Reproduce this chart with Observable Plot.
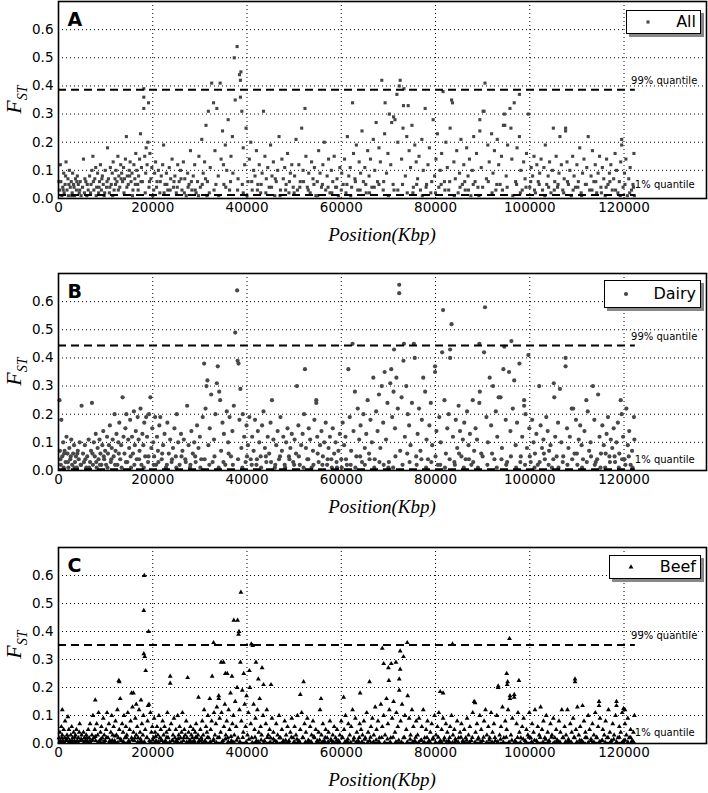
<!DOCTYPE html>
<html><head><meta charset="utf-8">
<script src="https://cdn.jsdelivr.net/npm/d3@7"></script>
<script src="https://cdn.jsdelivr.net/npm/@observablehq/plot@0.6"></script>
<style>
body{margin:0;background:#fff;}
#wrap{position:relative;width:708px;height:793px;overflow:hidden;background:#fff;}
.panel{position:absolute;left:0;width:708px;}
.legend{position:absolute;background:#fff;border:1.5px solid #000;box-shadow:3px 3px 0 #888;box-sizing:border-box;font-family:"DejaVu Sans",sans-serif;font-size:16px;color:#000;}
.legend .lab{position:absolute;right:4px;top:50%;transform:translateY(-52%);}
.legend .mk{position:absolute;top:50%;}
.xlab{position:absolute;left:58px;width:648px;text-align:center;font-family:"Liberation Serif","DejaVu Serif",serif;font-style:italic;font-size:19px;color:#000;}
.ylab{position:absolute;left:-12px;width:56px;text-align:center;transform:rotate(-90deg);font-family:"Liberation Serif","DejaVu Serif",serif;font-style:italic;font-size:22px;color:#000;}
.ylab sub{font-size:14px;}
</style>
</head><body>
<div id="wrap"></div>
<script>
// Tick values
const xTicks = [0, 20000, 40000, 60000, 80000, 100000, 120000];
const yTicks = [0, 0.1, 0.2, 0.3, 0.4, 0.5, 0.6];
const chromEnd = 122400; // Kbp, end of quantile lines
const panelNames = ["A", "B", "C"];
const legendNames = ["All", "Dairy", "Beef"];
const q99 = [0.386, 0.444, 0.352];
const q01 = [0.012, 0.004, 0.003];

// Points: flat pairs [position (x1000 Kbp), Fst (x100)]
const ptsA = [
0.2,3, 0.4,12, 0.5,6, 0.7,1, 0.9,4, 1.1,9, 1.2,2, 1.4,5, 1.6,13, 1.8,3, 2.0,7, 2.1,1, 2.3,10, 2.5,4, 2.7,6, 2.9,2, 3.0,9, 3.2,5, 3.4,1, 3.6,7, 3.8,3, 4.0,8, 4.2,5, 4.4,2, 4.6,6, 4.8,1,
5.1,4, 5.3,14, 5.5,2, 5.8,6, 6.0,1, 6.3,3, 6.6,8, 6.9,5, 7.1,10, 7.3,15, 7.5,3, 7.7,7, 7.9,11, 8.1,4, 8.3,9, 8.5,2, 8.7,6, 8.9,12, 9.1,3, 9.3,8, 9.5,5, 9.7,1, 9.9,10,
10.2,4, 10.4,18, 10.6,7, 10.8,2, 11.0,11, 11.2,5, 11.4,9, 11.6,13, 11.8,3, 12.0,7, 12.2,10, 12.4,6, 12.6,15, 12.8,8, 13.0,4, 13.2,12, 13.4,9, 13.6,6, 13.8,11, 14.0,7, 14.2,14, 14.4,22, 14.6,8, 14.8,5, 15.0,10, 15.2,13, 15.4,6, 15.6,9, 15.8,3, 16.0,12, 16.2,7, 16.4,16, 16.6,10, 16.8,5, 17.0,8, 17.2,14, 17.4,23, 17.6,11, 17.8,6,
18.1,39, 18.1,36, 18.1,32, 18.3,15, 18.5,9, 18.6,18, 18.8,12, 19.1,34, 19.0,20, 19.2,4, 19.4,16, 19.6,7, 19.8,11,
20.2,3, 20.4,9, 20.6,13, 20.9,6, 21.2,10, 21.5,2, 21.8,8, 22.1,12, 22.3,19, 22.6,5, 22.9,9, 23.2,3, 23.5,11, 23.8,7, 24.1,14, 24.4,4, 24.7,8, 25.0,2, 25.3,12, 25.6,6, 25.9,10, 26.2,3, 26.5,13, 26.8,7, 27.1,1, 27.4,9, 27.7,5, 28.0,17, 28.3,3, 28.6,8, 28.9,12, 29.2,2, 29.5,6, 29.8,15,
30.1,4, 30.4,21, 30.7,9, 31.0,13, 31.3,26, 31.6,6, 31.8,31, 32.2,11, 32.5,41, 32.9,34, 33.2,17, 33.6,32, 33.9,8, 34.3,41, 34.5,14, 34.8,24, 35.1,5, 35.4,19, 35.7,10, 36.0,28, 36.3,3, 36.6,15, 36.9,22, 37.3,50, 37.5,35, 37.9,54, 38.1,7, 38.4,44, 38.6,42, 38.6,36, 38.7,45, 38.9,31, 39.2,18, 39.5,12, 39.8,25, 39.2,2, 37.0,9, 35.0,12, 33.0,3, 31.5,1,
40.2,6, 40.5,14, 40.8,20, 41.1,3, 41.4,10, 41.7,8, 42.0,17, 42.3,5, 42.6,12, 42.9,2, 43.2,9, 43.5,31, 43.8,15, 44.1,7, 44.4,11, 44.7,4, 45.0,19, 45.3,8, 45.6,13, 45.9,1, 46.2,6, 46.5,10, 46.8,22, 47.1,3, 47.4,14, 47.7,7, 48.0,11, 48.3,5, 48.6,16, 48.9,2, 49.2,9, 49.5,12, 49.8,4,
50.1,8, 50.4,21, 50.7,3, 51.0,12, 51.3,6, 51.6,25, 51.9,10, 52.3,32, 52.5,15, 52.8,4, 53.1,9, 53.4,2, 53.7,13, 54.0,7, 54.3,11, 54.6,1, 54.9,6, 55.2,17, 55.5,9, 55.8,4, 56.1,12, 56.4,20, 56.7,3, 57.0,8, 57.3,14, 57.6,2, 57.9,10, 58.2,6, 58.5,15, 58.8,4, 59.1,7, 59.4,1, 59.7,11,
60.1,9, 60.4,5, 60.7,14, 61.0,2, 61.3,22, 61.6,8, 61.9,11, 62.2,4, 62.4,34, 62.6,16, 62.9,7, 63.2,19, 63.5,3, 63.8,13, 64.1,9, 64.4,24, 64.7,6, 65.0,11, 65.3,2, 65.6,17, 65.9,8,
66.2,14, 66.5,4, 66.8,21, 67.1,10, 67.4,27, 67.7,6, 68.0,18, 68.3,13, 68.6,42, 68.9,3, 69.2,23, 69.3,34, 69.6,9, 69.9,16, 70.2,30, 70.5,12, 70.7,27, 71.0,5, 71.1,29, 71.4,28, 71.8,37, 72.0,20, 72.3,40, 72.5,42, 72.8,14, 73.1,25, 73.2,33, 73.3,39, 73.6,8, 73.9,22, 74.2,33, 74.4,17, 74.7,11, 75.0,26, 75.3,4, 75.6,19, 75.9,13, 70.0,1, 72.0,3, 68.0,5, 74.0,2,
76.2,7, 76.5,15, 76.8,3, 77.1,21, 77.4,10, 77.8,32, 78.1,5, 78.4,12, 78.7,18, 79.0,2, 79.5,28, 79.8,8, 80.1,14, 80.4,23, 80.7,4, 81.0,10, 81.3,16, 81.6,38, 81.9,6, 82.2,20, 82.5,11, 82.8,3, 83.1,25, 83.4,35, 83.6,34, 83.9,13, 84.2,7, 84.5,17, 84.8,2, 85.1,9, 85.4,21, 85.7,5,
86.0,12, 86.3,3, 86.6,18, 86.9,8, 87.2,14, 87.5,1, 87.8,10, 88.1,22, 88.4,6, 88.7,16, 89.0,4, 89.4,28, 89.4,24, 89.7,11, 90.1,31, 90.3,31, 90.5,41, 90.8,7, 91.1,19, 91.4,13, 91.9,23, 92.2,9, 92.5,17, 92.8,3, 93.1,21, 93.4,12, 93.7,5, 94.0,15, 94.4,26, 94.6,30, 94.7,26, 95.0,8, 95.3,19, 95.8,32, 96.0,25, 96.2,14, 96.7,34, 97.0,6, 97.3,18, 97.8,37, 97.8,22, 98.1,10, 98.4,3,
98.7,13, 99.0,7, 99.3,16, 99.7,30, 100.0,4, 100.3,11, 100.6,8, 100.9,15, 101.2,2, 101.5,12, 101.8,6, 102.1,9, 102.4,14, 102.7,3, 103.0,11, 103.3,19, 103.6,5, 103.9,8, 104.2,13, 104.5,2, 104.8,10, 105.0,25, 105.3,6, 105.6,15, 105.9,4, 106.2,9, 106.4,22, 106.7,12, 107.0,3, 107.3,7, 107.6,24, 107.6,25, 107.9,13, 108.2,5, 108.5,10, 108.8,1, 109.1,15, 109.4,8, 109.7,4, 110.0,12, 110.3,6, 110.6,18, 110.9,2, 111.2,9, 111.5,14, 111.8,5, 112.1,11, 112.4,22, 112.7,3, 113.0,8, 113.3,17, 113.6,6, 113.9,12, 114.2,2, 114.5,9, 114.8,15, 115.1,4, 115.4,11, 115.7,7, 116.0,1, 116.3,14, 116.6,5, 116.9,9, 117.2,12, 117.5,3, 117.8,7, 118.1,16, 118.4,10, 118.7,2, 119.0,6, 119.3,13, 119.5,21, 119.5,19, 119.8,4, 120.1,9, 120.4,14, 120.7,1, 121.0,7, 121.3,11, 121.6,3, 121.9,5, 122.1,16, 122.2,1,
0.1,6, 1.0,3, 1.5,8, 2.2,5, 2.8,1, 3.3,4, 3.9,6, 4.5,3, 5.6,7, 6.1,5, 6.8,2, 7.4,6, 8.0,1, 8.6,4, 9.2,7, 9.8,2, 10.3,6, 10.9,4, 11.5,1, 12.1,5, 12.7,3, 13.3,7, 13.9,2, 14.5,4, 15.1,8, 15.7,1, 16.3,5, 16.9,3, 17.5,6, 18.4,2, 19.3,6, 20.0,1, 20.8,4, 21.6,6, 22.4,2, 23.0,5, 23.7,3, 24.5,6, 25.2,4, 26.0,7, 26.7,2, 27.5,4, 28.2,6, 29.0,3, 29.7,1, 30.5,5, 31.2,7, 32.0,2, 33.4,5, 34.0,1, 35.5,4, 36.5,6, 38.0,3, 39.0,5, 40.0,1, 41.0,6, 42.2,3, 43.0,5, 44.0,2, 45.2,4, 46.0,7, 47.0,1, 48.2,3, 49.0,6, 50.0,2, 51.2,4, 52.0,6, 53.0,3, 54.2,5, 55.0,1, 56.0,5, 57.2,4, 58.0,2, 59.0,4, 60.0,3, 61.2,5, 62.0,1, 63.0,6, 64.0,3, 65.2,5, 66.0,2, 67.0,4, 69.0,6, 71.2,3, 73.0,5, 75.2,2, 76.0,5, 77.2,1, 78.0,4, 79.2,6, 80.0,2, 81.2,5, 82.0,3, 83.0,6, 84.0,1, 85.2,4, 86.2,6, 87.0,3, 88.0,5, 89.2,1, 90.0,4, 91.2,6, 92.0,2, 93.0,5, 94.2,3, 95.2,4, 96.4,1, 97.2,5, 98.0,2, 99.2,4, 100.2,6, 101.0,3, 102.0,5, 103.2,1, 104.0,4, 105.2,3, 106.0,5, 107.2,2, 108.0,6, 109.2,3, 110.2,4, 111.0,1, 112.0,5, 113.2,3, 114.0,6, 115.2,2, 116.2,4, 117.0,6, 118.2,3, 119.2,1, 120.2,5, 121.2,2, 122.0,4
];

const ptsB = [
0.2,25, 0.3,7, 0.5,2, 0.6,18, 0.8,5, 1.0,10, 1.1,1, 1.3,7, 1.5,3, 1.7,12, 1.9,6, 2.1,1, 2.3,8, 2.5,4, 2.7,11, 2.9,2, 3.1,6, 3.3,9, 3.5,3, 3.7,5, 3.9,1, 4.1,7, 4.3,4, 4.5,10, 4.9,23, 4.7,2,
5.2,6, 5.4,3, 5.6,9, 5.9,1, 6.1,5, 6.4,11, 6.7,3, 6.9,7, 7.1,24, 7.3,2, 7.5,10, 7.7,5, 7.9,13, 8.1,1, 8.3,8, 8.5,4, 8.7,11, 8.9,6, 9.1,2, 9.3,9, 9.5,14, 9.7,4, 9.9,7,
10.1,2, 10.3,12, 10.5,6, 10.7,9, 10.9,16, 11.1,3, 11.3,8, 11.5,11, 11.7,5, 11.9,20, 12.1,7, 12.3,13, 12.5,2, 12.7,10, 12.9,17, 13.1,4, 13.3,9, 13.6,26, 13.8,12, 14.0,6, 14.2,15, 14.4,20, 14.6,3, 14.8,11, 15.0,8, 15.2,18, 15.4,1, 15.6,12, 15.8,6, 16.0,21, 16.2,9, 16.4,14, 16.6,4, 16.8,19, 17.0,11, 17.2,7, 17.4,22, 17.6,2, 17.8,13, 18.0,9, 18.2,17, 18.4,5, 18.6,19, 18.8,12, 19.0,3, 19.2,20, 19.5,26, 19.7,8, 19.9,15,
20.1,10, 20.3,5, 20.5,19, 20.7,2, 20.9,12, 21.1,7, 21.4,16, 21.6,19, 21.9,4, 22.2,9, 22.5,13, 22.8,1, 23.1,17, 23.4,6, 23.7,11, 24.0,3, 24.3,8, 24.6,15, 24.9,5, 25.1,20, 25.4,10, 25.7,2, 26.0,13, 26.3,7, 26.6,11, 26.9,4, 27.3,23, 27.6,9, 27.9,1, 28.2,14, 28.5,6, 28.8,10, 29.1,3, 29.4,16, 29.7,8,
30.0,12, 30.3,4, 30.6,19, 30.9,38, 31.2,22, 31.4,30, 31.6,32, 31.8,9, 32.1,15, 32.4,27, 32.7,3, 33.0,11, 33.3,20, 33.6,31, 33.8,37, 34.1,28, 34.3,25, 34.5,7, 34.8,17, 35.1,13, 35.4,2, 35.7,21, 36.0,10, 36.3,19, 36.6,5, 36.9,14, 37.2,23, 37.5,49, 37.9,64, 38.0,39, 38.2,38, 38.4,18, 38.6,29, 38.8,8, 39.1,20, 39.4,12, 39.7,3, 39.9,16,
40.2,9, 40.5,19, 40.8,4, 41.1,12, 41.4,7, 41.7,18, 42.0,2, 42.3,14, 42.6,10, 42.9,5, 43.2,16, 43.5,21, 43.8,8, 44.1,3, 44.4,12, 44.7,6, 45.0,17, 45.3,25, 45.6,11, 45.9,1, 46.2,9, 46.5,14, 46.8,4, 47.1,19, 47.4,7, 47.7,12, 48.0,2, 48.3,10, 48.6,15, 48.9,5, 49.2,8, 49.5,13, 49.8,3,
50.1,11, 50.4,6, 50.6,30, 50.9,16, 51.2,2, 51.5,9, 51.8,13, 52.1,20, 52.3,36, 52.5,8, 52.8,4, 53.1,15, 53.4,11, 53.7,1, 54.0,7, 54.3,18, 54.7,25, 54.7,24, 54.9,12, 55.2,3, 55.5,9, 55.8,14, 56.1,5, 56.4,10, 56.7,17, 57.0,2, 57.3,8, 57.6,12, 57.9,4, 58.2,15, 58.5,6, 58.8,10, 59.1,1, 59.4,7, 59.7,13,
60.0,4, 60.3,17, 60.6,9, 60.9,12, 61.2,2, 61.5,36, 61.8,19, 62.1,7, 62.4,45, 62.6,14, 62.9,28, 63.2,5, 63.5,22, 63.8,11, 64.1,16, 64.4,3, 64.7,20, 65.0,8, 65.3,13, 65.6,25, 65.9,6,
66.2,18, 66.5,10, 66.8,33, 67.1,4, 67.4,21, 67.7,14, 68.0,27, 68.3,8, 68.6,30, 68.9,17, 69.2,35, 69.5,11, 69.8,24, 70.1,3, 70.4,31, 70.6,36, 70.8,19, 71.1,28, 71.2,43, 71.4,15, 71.7,33, 72.0,22, 72.3,66, 72.3,63, 72.5,7, 72.8,26, 73.2,39, 73.3,45, 73.5,12, 73.8,30, 74.1,20, 74.4,16, 74.7,9, 75.0,24, 75.4,45, 75.6,40, 75.9,5, 70.0,1, 71.5,5, 73.0,2, 74.0,6,
76.2,13, 76.5,22, 76.8,7, 77.1,18, 77.4,33, 77.8,28, 78.1,11, 78.4,4, 78.7,16, 79.0,24, 79.3,9, 79.9,35, 79.9,37, 80.2,14, 80.5,2, 80.8,19, 81.1,10, 81.4,42, 81.6,57, 81.9,25, 82.2,6, 82.5,15, 82.8,20, 83.1,43, 83.1,40, 83.4,52, 83.7,12, 84.0,3, 84.3,18, 84.6,8, 84.9,23, 85.2,14, 85.5,5, 85.8,11,
86.1,17, 86.4,4, 86.7,21, 87.0,9, 87.3,13, 87.6,2, 87.9,25, 88.2,7, 88.5,15, 88.8,11, 89.3,45, 89.3,24, 89.4,28, 89.7,6, 90.3,42, 90.5,58, 90.8,19, 91.1,10, 91.5,33, 91.8,16, 92.2,30, 92.5,4, 92.8,21, 93.1,12, 93.4,26, 93.8,26, 94.1,8, 94.4,36, 94.6,44, 94.9,18, 95.2,3, 95.6,35, 95.9,14, 96.1,46, 96.4,22, 96.7,32, 97.0,9, 97.3,17, 97.8,38, 98.1,5, 98.4,12, 98.8,25, 98.8,23, 99.1,20, 99.4,8, 99.7,41, 99.9,15,
100.2,3, 100.5,18, 100.8,10, 101.1,6, 101.4,13, 101.7,2, 102.0,30, 102.3,16, 102.6,8, 102.9,11, 103.2,4, 103.5,19, 103.8,14, 104.1,7, 104.4,9, 104.7,1, 105.1,31, 105.2,26, 105.4,12, 105.7,5, 106.0,17, 106.4,29, 106.7,10, 107.0,3, 107.6,40, 107.6,37, 107.9,15, 108.2,8, 108.5,12, 108.9,22, 109.2,22, 109.5,6, 109.8,18, 110.1,2, 110.4,11, 110.7,16, 111.0,9, 111.3,4, 111.6,14, 112.0,25, 112.3,21, 112.6,7, 112.9,10, 113.4,30, 113.7,18, 114.0,3, 114.5,27, 114.8,12, 115.1,6, 115.4,16, 115.7,9, 116.0,1, 116.3,13, 116.6,19, 116.9,5, 117.2,11, 117.5,8, 117.8,15, 118.1,3, 118.4,10, 118.7,17, 119.0,6, 119.3,25, 119.5,20, 119.8,12, 120.1,4, 120.5,22, 120.8,9, 121.1,14, 121.4,2, 121.7,7, 122.1,19, 122.2,11,
0.4,4, 1.2,6, 2.0,3, 2.6,5, 3.4,1, 4.0,6, 4.8,2, 5.7,4, 6.5,1, 7.2,6, 8.0,3, 8.8,2, 9.6,5, 10.4,1, 11.2,4, 12.0,2, 12.8,6, 13.4,1, 14.3,3, 15.3,5, 16.1,2, 17.1,4, 18.1,1, 19.1,5, 20.2,2, 21.2,3, 22.0,6, 23.0,2, 24.1,4, 25.0,1, 26.1,5, 27.0,3, 28.0,2, 29.0,5, 30.1,1, 31.0,4, 32.0,2, 33.1,5, 34.0,1, 35.0,3, 36.1,6, 37.0,2, 38.1,4, 39.0,1, 40.0,5, 41.0,2, 42.1,4, 43.0,1, 44.0,5, 45.1,3, 46.0,2, 47.0,5, 48.1,1, 49.0,4, 50.0,2, 51.0,5, 52.0,1, 53.0,4, 54.1,2, 55.0,6, 56.0,2, 57.1,4, 58.0,1, 59.0,3, 60.1,1, 61.0,4, 62.0,2, 63.0,1, 64.0,5, 65.0,2, 66.0,4, 67.0,1, 68.1,3, 69.0,2, 71.0,1, 74.5,3, 76.0,2, 77.0,4, 78.0,1, 79.1,3, 80.0,5, 81.0,2, 82.0,1, 83.0,4, 84.1,2, 85.0,6, 86.0,1, 87.1,4, 88.0,3, 89.0,1, 90.0,5, 91.0,2, 92.0,6, 93.0,1, 94.0,4, 95.0,2, 96.0,5, 97.1,1, 98.0,3, 99.0,2, 100.0,5, 101.0,1, 102.1,3, 103.0,6, 104.0,2, 105.0,4, 106.1,1, 107.1,5, 108.0,2, 109.0,4, 110.0,6, 111.1,1, 112.1,3, 113.0,5, 113.8,2, 114.3,4, 115.0,1, 116.1,6, 117.0,3, 118.0,5, 118.9,1, 119.6,4, 120.3,2, 121.0,5, 121.8,1
];

const ptsC = [
18.2,60, 18.1,47.5, 19.1,40, 18.1,32, 18.3,31, 18.5,26, 12.8,22.5, 12.9,22, 23.7,24, 23.7,21.5, 27.4,23.5, 32.9,36, 34.5,29, 35.0,29, 35.8,25, 32.6,24, 34.0,17, 34.0,16, 29.7,16.5, 37.2,44, 38.0,44, 38.2,39, 38.3,40, 38.7,54, 40.9,35.5, 41.2,35, 38.6,29, 41.9,29, 40.5,26, 39.3,25, 43.2,27, 35.4,25, 36.8,24, 42.4,23, 43.5,21, 45.1,21, 52.0,22, 66.0,22, 70.1,22.5, 72.3,23, 68.7,34, 74.0,36, 83.6,35.5, 72.5,33, 73.2,31, 69.0,28.5, 70.0,27, 70.6,28.5, 71.6,29, 72.5,26.5, 81.0,18.5, 81.6,18, 88.2,15, 93.3,20.5, 51.3,17.5, 55.7,16, 64.0,18, 60.5,16.5, 95.7,37.5, 95.1,25, 95.2,21, 95.3,22, 97.7,22.5, 93.3,20, 95.8,16, 95.8,17, 96.7,16.5, 96.7,17.5, 88.4,14.5, 109.6,23, 109.6,22, 114.7,15, 114.7,13.5, 118.4,15, 118.4,13.5, 111.2,13.5, 119.9,12.5, 120.2,12, 7.8,15.5, 15.5,18, 15.9,18, 0.8,12, 2.0,9.5, 17.5,15.5, 16.5,14, 19.2,14, 19.0,13.5,
0.1,2, 0.3,4, 0.4,1, 0.6,6, 0.8,3, 0.9,1, 1.1,5, 1.3,2, 1.4,8, 1.6,1, 1.8,3, 2.0,2, 2.2,5, 2.4,1, 2.6,3, 2.8,6, 3.0,2, 3.2,4, 3.4,1, 3.6,3, 3.8,5, 4.0,1, 4.2,2, 4.4,4, 4.5,7, 4.7,1, 4.9,3,
5.1,1, 5.3,4, 5.5,2, 5.7,1, 5.9,3, 6.1,1, 6.3,5, 6.5,2, 6.7,7, 6.9,1, 7.1,3, 7.3,10, 7.5,2, 7.7,5, 7.9,1, 8.1,7, 8.3,3, 8.5,11, 8.7,1, 8.9,4, 9.1,6, 9.3,2, 9.5,9, 9.7,3, 9.9,1,
10.1,5, 10.3,11, 10.5,2, 10.7,7, 10.9,1, 11.1,4, 11.3,10, 11.5,3, 11.7,6, 11.9,1, 12.1,8, 12.3,3, 12.5,12, 12.7,2, 12.9,5, 13.1,16, 13.3,1, 13.5,7, 13.7,4, 13.9,10, 14.1,2, 14.3,6, 14.5,3, 14.7,11, 14.9,1, 15.1,5, 15.3,8, 15.5,2, 15.7,13, 15.9,4, 16.1,1, 16.3,9, 16.5,3, 16.7,6, 16.9,2, 17.1,12, 17.3,4, 17.5,1, 17.7,7, 17.9,3, 18.0,10, 18.4,5, 18.7,2, 18.9,8, 19.3,1, 19.5,11, 19.7,4, 19.9,6,
20.1,2, 20.3,9, 20.5,4, 20.7,1, 20.9,6, 21.1,3, 21.3,10, 21.5,2, 21.7,5, 21.9,1, 22.1,8, 22.3,3, 22.5,6, 22.7,1, 22.9,4, 23.1,11, 23.3,2, 23.5,5, 23.9,7, 24.1,1, 24.3,3, 24.5,9, 24.7,2, 24.9,5, 25.1,1, 25.3,10, 25.5,3, 25.7,6, 25.9,2, 26.1,4, 26.3,11, 26.5,1, 26.7,5, 26.9,3, 27.1,8, 27.3,2, 27.6,4, 27.8,1, 28.0,6, 28.2,3, 28.4,2, 28.6,5, 28.8,1, 29.0,4, 29.2,7, 29.4,2, 29.6,3, 29.9,1,
30.1,5, 30.3,2, 30.5,8, 30.7,3, 30.9,12, 31.1,1, 31.3,6, 31.5,4, 31.7,10, 31.9,2, 32.1,16, 32.3,5, 32.5,8, 32.8,1, 33.0,11, 33.2,3, 33.4,7, 33.6,13, 33.8,2, 34.2,9, 34.4,4, 34.6,11, 34.9,1, 35.1,6, 35.3,14, 35.5,3, 35.7,8, 35.9,2, 36.1,12, 36.3,5, 36.5,18, 36.7,1, 36.9,7, 37.1,10, 37.3,3, 37.5,15, 37.7,6, 37.9,20, 38.1,2, 38.4,12, 38.8,8, 39.0,19, 39.2,4, 39.5,14, 39.7,6, 39.9,17,
40.1,3, 40.3,11, 40.6,20, 40.8,7, 41.0,2, 41.4,14, 41.6,5, 41.8,9, 42.0,1, 42.2,12, 42.5,4, 42.7,16, 42.9,6, 43.1,3, 43.4,10, 43.7,1, 44.0,7, 44.2,12, 44.5,3, 44.8,5, 45.0,2, 45.3,9, 45.6,4, 45.9,1, 46.2,7, 46.5,3, 46.8,10, 47.1,2, 47.4,5, 47.7,1, 48.0,8, 48.3,3, 48.6,6, 48.9,1, 49.2,4, 49.5,9, 49.8,2,
50.1,6, 50.4,3, 50.7,10, 51.0,1, 51.3,5, 51.6,11, 51.9,2, 52.2,7, 52.5,4, 52.8,9, 53.1,1, 53.4,6, 53.7,3, 54.0,8, 54.3,2, 54.6,5, 54.9,1, 55.2,4, 55.5,12, 55.8,3, 56.1,7, 56.4,1, 56.7,5, 57.0,2, 57.3,4, 57.6,8, 57.9,1, 58.2,3, 58.5,6, 58.8,2, 59.1,5, 59.4,1, 59.7,3,
60.0,8, 60.3,2, 60.6,5, 60.9,10, 61.2,1, 61.5,7, 61.8,3, 62.1,6, 62.4,12, 62.7,2, 63.0,9, 63.3,4, 63.6,1, 63.9,7, 64.2,5, 64.5,3, 64.8,8, 65.1,2, 65.4,11, 65.7,4,
66.0,1, 66.3,6, 66.6,9, 66.9,3, 67.2,13, 67.5,5, 67.8,8, 68.1,2, 68.4,14, 68.7,6, 69.0,10, 69.3,3, 69.6,16, 69.9,7, 70.2,12, 70.5,2, 70.8,9, 71.1,15, 71.4,4, 71.7,11, 72.0,6, 72.3,19, 72.6,8, 72.9,14, 73.2,2, 73.5,10, 73.8,5, 74.1,17, 74.4,9, 74.7,3, 75.0,12, 75.3,6, 75.6,1, 75.9,8,
76.2,3, 76.5,9, 76.8,1, 77.1,6, 77.4,12, 77.7,2, 78.0,5, 78.3,8, 78.6,1, 78.9,4, 79.2,7, 79.5,2, 79.8,10, 80.1,3, 80.4,6, 80.7,11, 81.0,1, 81.3,5, 81.6,9, 81.9,2, 82.2,7, 82.5,4, 82.8,1, 83.1,6, 83.4,10, 83.7,3, 84.0,5, 84.3,1, 84.6,8, 84.9,2, 85.2,4, 85.5,7, 85.8,1,
86.1,5, 86.4,2, 86.7,9, 87.0,3, 87.3,6, 87.6,1, 87.9,11, 88.5,4, 88.8,7, 89.1,2, 89.4,10, 89.7,5, 90.0,1, 90.3,8, 90.6,12, 90.9,3, 91.2,6, 91.5,2, 91.8,11, 92.1,4, 92.4,7, 92.7,1, 93.0,10, 93.6,3, 93.9,6, 94.2,13, 94.5,2, 94.8,8, 95.1,5, 95.4,12, 96.0,3, 96.3,9, 96.9,1, 97.2,7, 97.5,11, 97.8,4, 98.1,2, 98.4,6, 98.7,9, 99.0,1, 99.3,5, 99.6,3, 99.9,11,
100.2,2, 100.5,7, 100.8,4, 101.1,12, 101.4,1, 101.7,6, 102.0,3, 102.3,13, 102.6,5, 102.9,8, 103.2,2, 103.5,10, 103.8,4, 104.1,1, 104.4,7, 104.7,3, 105.0,9, 105.3,2, 105.6,5, 105.9,1, 106.2,8, 106.5,4, 106.8,12, 107.1,2, 107.4,6, 107.7,3, 108.0,12, 108.3,1, 108.6,7, 108.9,4, 109.2,9, 109.5,2, 109.8,5, 110.1,13, 110.4,3, 110.7,6, 111.0,1, 111.5,8, 111.8,4, 112.1,2, 112.4,10, 112.7,5, 113.0,1, 113.3,7, 113.6,3, 113.9,11, 114.2,2, 114.5,6, 114.9,9, 115.2,1, 115.5,5, 115.8,3, 116.1,8, 116.4,2, 116.7,12, 117.0,4, 117.3,1, 117.6,7, 117.9,3, 118.2,10, 118.7,2, 119.0,6, 119.3,4, 119.6,11, 119.9,1, 120.2,7, 120.5,3, 120.8,9, 121.1,2, 121.4,5, 121.7,1, 122.0,4, 122.2,10,
0.2,0.5, 0.7,2, 1.2,0.4, 1.7,1.5, 2.3,0.6, 2.9,1, 3.5,2.2, 4.1,0.5, 4.8,1.6, 5.4,0.3, 6.0,2, 6.6,0.7, 7.2,1.2, 7.8,2.5, 8.4,0.4, 9.0,1.5, 9.6,0.6, 10.2,2.1, 10.8,0.5, 11.4,1.1, 12.0,2.6, 12.6,0.3, 13.2,1.5, 13.8,0.6, 14.4,2.2, 15.0,0.4, 15.6,1.2, 16.2,2, 16.8,0.5, 17.4,1.6, 18.2,0.6, 18.8,2.1, 19.4,0.3, 20.0,1.2, 20.6,2.5, 21.2,0.6, 21.8,1.5, 22.4,0.4, 23.0,2.2, 23.6,0.5, 24.2,1.1, 24.8,0.6, 25.4,1.7, 26.0,0.3, 26.6,2.1, 27.2,0.5, 27.9,1.2, 28.5,0.4, 29.1,2.2, 29.7,0.6, 30.4,1.1, 31.0,0.4, 31.6,2.1, 32.2,0.6, 32.9,1.5, 33.5,0.3, 34.1,2.2, 34.7,0.5, 35.4,1.6, 36.0,0.6, 36.6,2.5, 37.2,0.4, 37.8,1.1, 38.5,0.6, 39.1,2.1, 39.8,0.5, 40.4,1.5, 41.1,0.3, 41.7,2.2, 42.4,0.6, 43.0,1.2, 43.6,0.4, 44.3,2.1, 44.9,0.5, 45.6,1.6, 46.3,0.6, 46.9,2, 47.6,0.3, 48.2,1.1, 48.8,0.5, 49.4,2.2, 50.0,0.6, 50.6,1.5, 51.2,0.4, 51.8,2.1, 52.4,0.5, 53.0,1.1, 53.6,0.6, 54.2,2.5, 54.8,0.3, 55.4,1.2, 56.0,0.5, 56.6,2.1, 57.2,0.6, 57.8,1.5, 58.4,0.4, 59.0,1.1, 59.6,0.5, 60.2,2.2, 60.8,0.6, 61.4,1.6, 62.0,0.3, 62.6,1.1, 63.2,0.5, 63.8,2.1, 64.4,0.6, 65.0,1.5, 65.6,0.4, 66.2,2.2, 66.8,0.5, 67.4,1.2, 68.0,0.6, 68.6,2.1, 69.2,0.3, 69.8,1.6, 70.4,0.5, 71.0,2.2, 71.6,0.6, 72.2,1.1, 72.8,0.4, 73.4,2.1, 74.0,0.5, 74.6,1.5, 75.2,0.6, 75.8,2.2, 76.4,0.3, 77.0,1.2, 77.6,0.5, 78.2,2.1, 78.8,0.6, 79.4,1.5, 80.0,0.4, 80.6,2.2, 81.2,0.5, 81.8,1.1, 82.4,0.6, 83.0,2.1, 83.6,0.3, 84.2,1.6, 84.8,0.5, 85.4,2.2, 86.0,0.6, 86.6,1.1, 87.2,0.4, 87.8,2.1, 88.4,0.5, 89.0,1.5, 89.6,0.6, 90.2,2.2, 90.8,0.3, 91.4,1.2, 92.0,0.5, 92.6,2.1, 93.2,0.6, 93.8,1.5, 94.4,0.4, 95.0,2.2, 95.6,0.5, 96.2,1.1, 96.8,0.6, 97.4,2.1, 98.0,0.3, 98.6,1.6, 99.2,0.5, 99.8,2.2, 100.4,0.6, 101.0,1.1, 101.6,0.4, 102.2,2.1, 102.8,0.5, 103.4,1.5, 104.0,0.6, 104.6,2.2, 105.2,0.3, 105.8,1.2, 106.4,0.5, 107.0,2.1, 107.6,0.6, 108.2,1.5, 108.8,0.4, 109.4,2.2, 110.0,0.5, 110.6,1.1, 111.2,0.6, 111.8,2.1, 112.4,0.3, 113.0,1.6, 113.6,0.5, 114.2,2.2, 114.8,0.6, 115.4,1.1, 116.0,0.4, 116.6,2.1, 117.2,0.5, 117.8,1.5, 118.4,0.6, 119.0,2.2, 119.6,0.3, 120.2,1.2, 120.8,0.5, 121.4,2.1, 122.0,0.6
];

const allPts = [ptsA, ptsB, ptsC];

// Layout / style per panel (not data)
const layout = [
  {top: 0,   height: 273, mt: 1, mb: 75, symbol: "square",   r: 1.75, fill: "#454545",
   leg: {left: 626, top: 10, w: 75, h: 24, mk: 21}},
  {top: 273, height: 274, mt: 0, mb: 77, symbol: "circle",   r: 2.1,  fill: "#484848",
   leg: {left: 604, top: 280, w: 97, h: 28, mk: 21}},
  {top: 547, height: 246, mt: 0, mb: 50, symbol: "triangle", r: 1.8,  fill: "#000",
   leg: {left: 609, top: 555, w: 92, h: 24, mk: 21}}
];

const wrap = document.getElementById("wrap");

allPts.forEach((arr, i) => {
  const L = layout[i];
  const rows = [];
  for (let k = 0; k + 1 < arr.length; k += 2) rows.push({pos: arr[k] * 1000, fst: arr[k + 1] / 100});

  const chart = Plot.plot({
    width: 708,
    height: L.height,
    marginLeft: 58, marginRight: 2, marginTop: L.mt, marginBottom: L.mb,
    style: {fontFamily: "DejaVu Sans, sans-serif", fontSize: "13.5px", color: "#000", background: "transparent", overflow: "visible"},
    x: {domain: [0, 137500], ticks: xTicks, tickFormat: d => String(d), tickSize: 0, tickPadding: 4, label: null},
    y: {domain: [0, 0.7], ticks: yTicks, tickFormat: d3.format(".1f"), tickSize: 0, tickPadding: 5, label: null},
    marks: [
      Plot.ruleX(xTicks.slice(1), {stroke: "#000", strokeWidth: 1, strokeDasharray: "1,3"}),
      Plot.ruleY(yTicks.slice(1), {stroke: "#000", strokeWidth: 1, strokeDasharray: "1,3"}),
      Plot.dot(rows, {x: "pos", y: "fst", symbol: L.symbol, r: L.r, fill: L.fill, stroke: null}),
      Plot.ruleY([q99[i]], {x1: 0, x2: chromEnd, stroke: "#000", strokeWidth: 2, strokeDasharray: "8,5"}),
      Plot.ruleY([q01[i]], {x1: 0, x2: chromEnd, stroke: "#000", strokeWidth: 2, strokeDasharray: "8,5"}),
      Plot.text(["99% quantile"], {x: 121500, y: q99[i], dy: -9, textAnchor: "start", fontSize: 10, fill: "#000"}),
      Plot.text(["1% quantile"], {x: 122300, y: q01[i], dy: -10, textAnchor: "start", fontSize: 10, fill: "#000"}),
      Plot.text([panelNames[i]], {frameAnchor: "top-left", dx: 9, dy: 11, fontSize: 19, fontWeight: "bold", fill: "#000"}),
      Plot.frame({stroke: "#000", strokeWidth: 1.6})
    ]
  });
  const holder = document.createElement("div");
  holder.className = "panel";
  holder.style.top = L.top + "px";
  holder.appendChild(chart);
  wrap.appendChild(holder);

  const plotTop = L.top + L.mt;
  const plotBottom = L.top + L.height - L.mb;

  // y label
  const yl = document.createElement("div");
  yl.className = "ylab";
  yl.innerHTML = "F<sub>ST</sub>";
  yl.style.top = ((plotTop + plotBottom) / 2 - 15) + "px";
  wrap.appendChild(yl);

  // x label
  const xl = document.createElement("div");
  xl.className = "xlab";
  xl.textContent = "Position(Kbp)";
  xl.style.top = (plotBottom + 26) + "px";
  wrap.appendChild(xl);

  // legend
  const lg = document.createElement("div");
  lg.className = "legend";
  lg.style.left = L.leg.left + "px";
  lg.style.top = L.leg.top + "px";
  lg.style.width = L.leg.w + "px";
  lg.style.height = L.leg.h + "px";
  const mk = document.createElementNS("http://www.w3.org/2000/svg", "svg");
  mk.setAttribute("width", 8); mk.setAttribute("height", 8);
  mk.setAttribute("class", "mk");
  mk.style.left = (L.leg.mk - 4) + "px";
  mk.style.marginTop = "-4px";
  const sym = {square: d3.symbolSquare, circle: d3.symbolCircle, triangle: d3.symbolTriangle}[L.symbol];
  const p = document.createElementNS("http://www.w3.org/2000/svg", "path");
  p.setAttribute("d", d3.symbol(sym, Math.PI * L.r * L.r)());
  p.setAttribute("transform", "translate(4,4)");
  p.setAttribute("fill", L.fill);
  mk.appendChild(p);
  lg.appendChild(mk);
  const lab = document.createElement("span");
  lab.className = "lab";
  lab.textContent = legendNames[i];
  lg.appendChild(lab);
  wrap.appendChild(lg);
});
</script>
</body></html>
